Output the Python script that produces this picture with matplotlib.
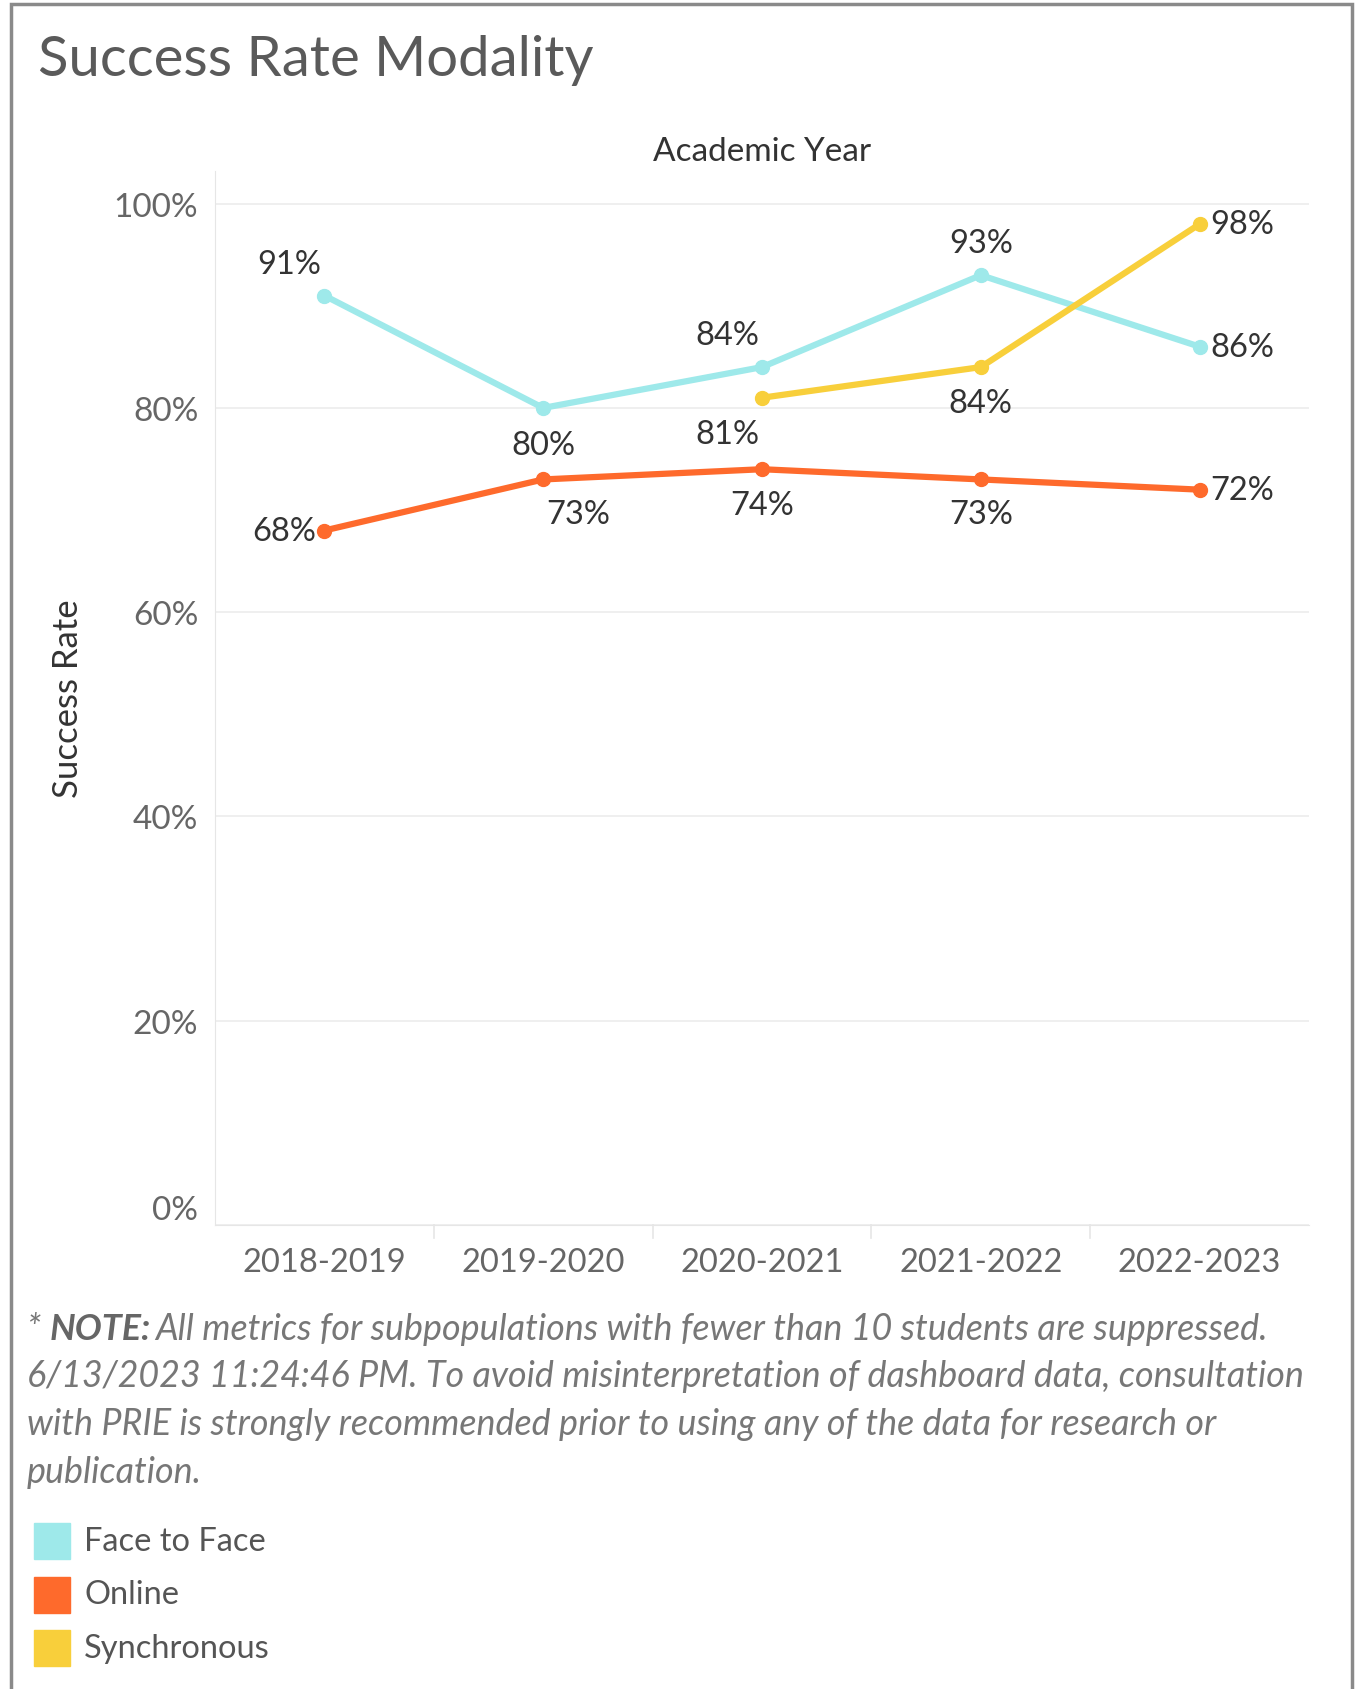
import numpy as np
import matplotlib.pyplot as plt
from matplotlib.patches import Rectangle

plt.rcParams['font.family'] = ['Lato', 'DejaVu Sans']

years = ["2018-2019", "2019-2020", "2020-2021", "2021-2022", "2022-2023"]
face_to_face = [91, 80, 84, 93, 86]
online = [68, 73, 74, 73, 72]
synchronous = [np.nan, np.nan, 81, 84, 98]
series_names = ["Face to Face", "Online", "Synchronous"]
colors = ["#9ee9ea", "#fe6a2c", "#f8cf3b"]
yticks = [0, 20, 40, 60, 80, 100]

note_lines = [
    "All metrics for subpopulations with fewer than 10 students are suppressed.",
    "6/13/2023 11:24:46 PM. To avoid misinterpretation of dashboard data, consultation",
    "with PRIE is strongly recommended prior to using any of the data for research or",
    "publication.",
]

# label placement (offset in points, horizontal alignment) per series / point
offsets = [
    [(-25, 23, 'center'), (0, -27, 'center'), (-25, 23, 'center'), (0, 23, 'center'), (8, 0, 'left')],
    [(-6, 0, 'right'), (25, -25, 'center'), (0, -26, 'center'), (0, -25, 'center'), (8, 0, 'left')],
    [None, None, (-25, -26, 'center'), (0, -26, 'center'), (8, 0, 'left')],
]

fig = plt.figure(figsize=(13.61, 16.90), dpi=100)
fig.patches.append(Rectangle((11 / 1361, -0.01), (1352 - 11) / 1361, 1 - 5 / 1690 + 0.01,
                             transform=fig.transFigure, fill=False, edgecolor="#8a8a8a", lw=2.5))

fig.text(38 / 1361, 1 - 61 / 1690, "Success Rate Modality", fontsize=40.5, color="#5a5a5a",
         va="center", ha="left")

ax = fig.add_axes([215 / 1361, 1 - 1226 / 1690, (1309 - 215) / 1361, (1226 - 172) / 1690])
x = np.arange(len(years))
for vals, col, offs in zip([face_to_face, online, synchronous], colors, offsets):
    ax.plot(x, vals, color=col, lw=4.5, marker='o', markersize=10, zorder=3)
    for xi, v, o in zip(x, vals, offs):
        if o is None or np.isnan(v):
            continue
        ax.annotate(f"{v:.0f}%", (xi, v), xytext=(o[0], o[1]), textcoords="offset points",
                    ha=o[2], va="center", fontsize=23.5, color="#333333", zorder=4)

ax.set_xlim(-0.5, 4.5)
ax.set_ylim(0, 103.2)
ax.set_yticks(yticks)
ax.set_yticklabels([f"{t}%" for t in yticks], fontsize=24, color="#666666")
ax.get_yticklabels()[0].set_va("bottom")
ax.set_xticks(x)
ax.set_xticklabels(years, fontsize=23.5, color="#666666")
ax.tick_params(axis='both', length=0, pad=12)
ax.tick_params(axis='x', pad=16)
ax.grid(axis='y', color="#ececec", lw=1.2)
ax.set_axisbelow(True)
for s in ["top", "right"]:
    ax.spines[s].set_visible(False)
ax.spines["left"].set_color("#e6e6e6")
ax.spines["bottom"].set_color("#e6e6e6")
for b in np.arange(0.5, 4.5, 1):
    ax.plot([b, b], [0, -1.3], color="#e6e6e6", lw=1.2, clip_on=False)

ax.set_ylabel("Success Rate", fontsize=25, color="#333333", labelpad=0)
ax.yaxis.set_label_coords((84 - 215) / (1309 - 215), 0.5)
ax.set_title("Academic Year", fontsize=24, color="#333333", pad=8)

# note text: "* NOTE:" then the rest on the same line
renderer = fig.canvas.get_renderer()
inv = fig.transFigure.inverted()
note_kw = dict(fontsize=25.8, style="italic", color="#777777", va="center")
y0 = 1 - 1330 / 1690
t1 = fig.text(27 / 1361, y0, "* ", **note_kw)
x1 = inv.transform((t1.get_window_extent(renderer).x1, 0))[0]
t2 = fig.text(x1, y0, "NOTE:", **{**note_kw, "weight": "bold", "color": "#666666"})
x2 = inv.transform((t2.get_window_extent(renderer).x1, 0))[0]
fig.text(x2 + 4 / 1361, y0, note_lines[0], **note_kw)
for i, line in enumerate(note_lines[1:]):
    fig.text(27 / 1361, 1 - (1377 + 47.7 * i) / 1690, line, **note_kw)

# legend
for i, (name, col) in enumerate(zip(series_names, colors)):
    yc = 1 - (1542 + 53.5 * i) / 1690
    fig.patches.append(Rectangle((34 / 1361, yc - 18 / 1690), 36 / 1361, 36 / 1690,
                                 transform=fig.transFigure, color=col))
    fig.text(84 / 1361, yc, name, fontsize=23.5, color="#555555", va="center")

fig.savefig("out.png", dpi=100)
